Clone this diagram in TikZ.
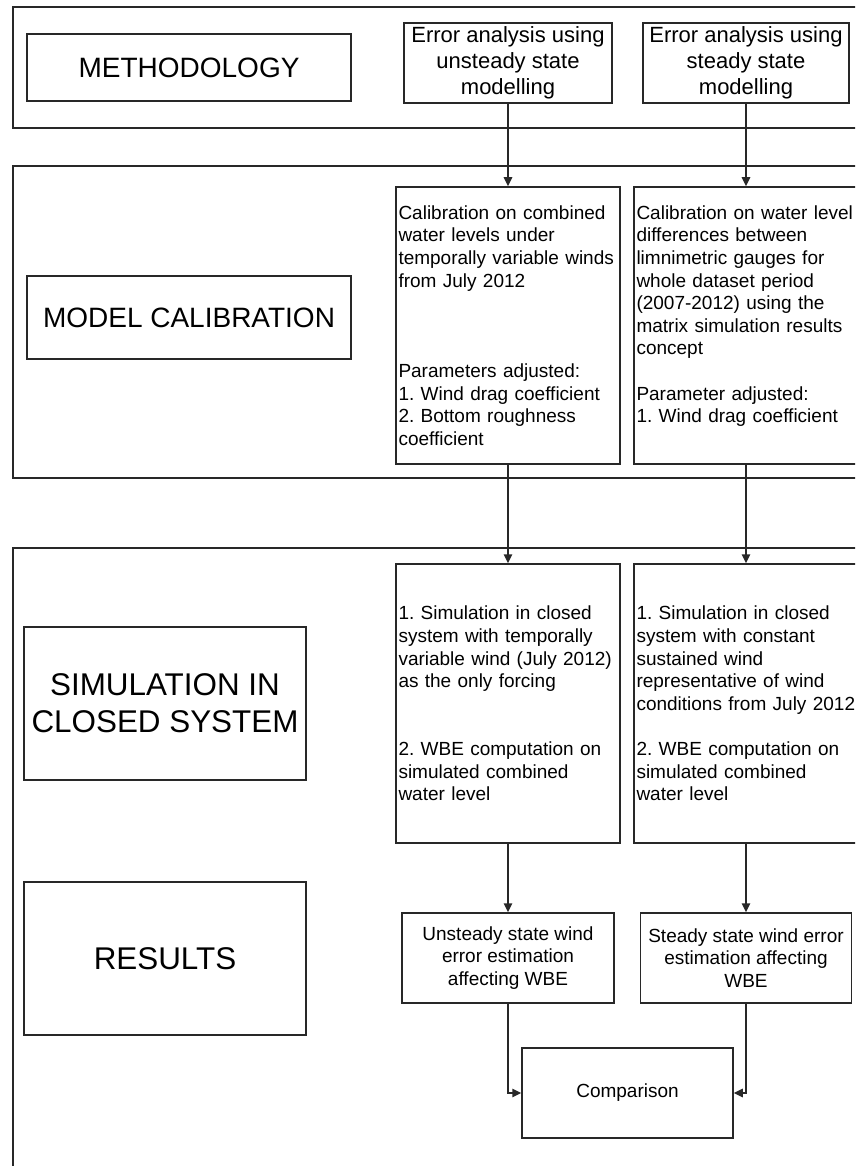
\documentclass[tikz,border=0pt]{standalone}
\usepackage{fontspec}
\setmainfont{Liberation Sans}
\usetikzlibrary{arrows.meta}
\definecolor{FlowLine}{RGB}{40,40,40}
\frenchspacing

\begin{document}
\begin{tikzpicture}[x=1pt,y=-1pt,line width=1.5pt,
  band/.style={draw=FlowLine},
  box/.style n args={4}{draw=FlowLine,rectangle,minimum width=#1pt,minimum height=#2pt,inner sep=0pt,align=center,font=\fontsize{#3}{#4}\selectfont},
  txt/.style={draw=FlowLine,rectangle,text width=219pt,inner xsep=2.5pt,inner ysep=0pt,minimum height=#1pt,align=left,font=\fontsize{19}{22.6}\selectfont},
  arr/.style={draw=FlowLine,-{Triangle[length=9pt,width=8.5pt]}}]
\clip (0,0) rectangle (855,1166);
% the three bands, cut by the right edge
\draw[band] (13,7) rectangle (880,128);
\draw[band] (13,166) rectangle (880,478);
\draw[band] (13,548) rectangle (880,1190);
% stage labels
\node[box={324}{67}{28}{33}](lab0) at(189,67.5) {METHODOLOGY};
\node[box={324}{83}{28}{33}](lab1) at(189,317.5) {MODEL CALIBRATION};
\node[box={282}{153}{31.4}{37}](lab2) at(165,703.5) {SIMULATION IN\\CLOSED SYSTEM};
\node[box={282}{153}{31.4}{37}](lab3) at(165,958.5) {RESULTS};
% unsteady / steady columns
\node[box={208}{80}{22}{26}](err0) at(508,63) {Error analysis using\\unsteady state\\modelling};
\node[box={206}{80}{22}{26}](err1) at(746,63) {Error analysis using\\steady state\\modelling};
\node[txt=277](cal0) at(508,325.5) {Calibration on combined\\water levels under\\temporally variable winds\\from July 2012\\[67.8pt]Parameters adjusted:\\1. Wind drag coefficient\\2. Bottom roughness\\coefficient};
\node[txt=277](cal1) at(746,325.5) {Calibration on water level\\differences between\\limnimetric gauges for\\whole dataset period\\(2007-2012) using the\\matrix simulation results\\concept\\[22.6pt]Parameter adjusted:\\1. Wind drag coefficient\\ \mbox{}};
\node[txt=279](sim0) at(508,703.5) {1. Simulation in closed\\system with temporally\\variable wind (July 2012)\\as the only forcing\\[45.2pt]2. WBE computation on\\simulated combined\\water level};
\node[txt=279](sim1) at(746,703.5) {1. Simulation in closed\\system with constant\\sustained wind\\representative of wind\\conditions from July 2012\\[22.6pt]2. WBE computation on\\simulated combined\\water level};
\node[box={212}{90}{19}{22.6}](res0) at(508,958) {Unsteady state wind\\error estimation\\affecting WBE};
\node[box={211}{90}{19}{22.6}](res1) at(746,958) {Steady state wind error\\estimation affecting\\WBE};
\node[box={211}{90}{19}{22.6}](cmp) at(627.5,1093) {Comparison};
% connectors
\draw[arr] (err0) -- (cal0);
\draw[arr] (err1) -- (cal1);
\draw[arr] (cal0) -- (sim0);
\draw[arr] (cal1) -- (sim1);
\draw[arr] (sim0) -- (res0);
\draw[arr] (sim1) -- (res1);
\draw[arr] (res0) |- (cmp);
\draw[arr] (res1) |- (cmp);
\end{tikzpicture}
\end{document}
